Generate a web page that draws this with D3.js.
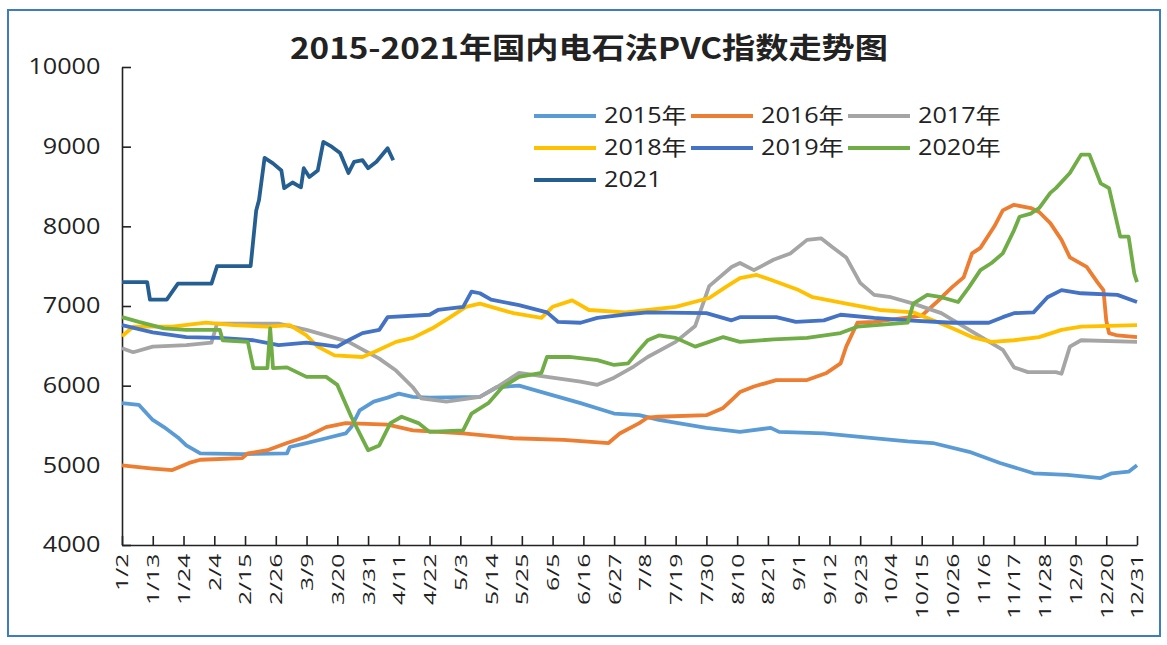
<!DOCTYPE html>
<html lang="zh-CN">
<head>
<meta charset="UTF-8">
<title>2015-2021年国内电石法PVC指数走势图</title>
<script src="https://cdn.jsdelivr.net/npm/d3@7"></script>
<style>
  body { margin: 0; background: #fff; }
  svg text { font-family: "Open Sans", "Noto Sans CJK SC", sans-serif; fill: #222; }
  .title { font-family: "Noto Sans CJK SC", sans-serif; font-weight: bold; }
  .axis path, .axis line { stroke: #222; stroke-width: 1.6; }
</style>
</head>
<body>
<svg id="chart" width="1167" height="645"></svg>
<script>
// ---- data ----
const seriesNames = ["2015年", "2016年", "2017年", "2018年", "2019年", "2020年", "2021"];
const seriesColors = ["#5b9bd5", "#ed7d31", "#a5a5a5", "#ffc000", "#4472c4", "#70ad47", "#255e91"];

const xTickLabels = ["1/2","1/13","1/24","2/4","2/15","2/26","3/9","3/20","3/31","4/11","4/22",
  "5/3","5/14","5/25","6/5","6/16","6/27","7/8","7/19","7/30","8/10","8/21","9/1","9/12",
  "9/23","10/4","10/15","10/26","11/6","11/17","11/28","12/9","12/20","12/31"];
const yTicks = [4000, 5000, 6000, 7000, 8000, 9000, 10000];

const s2015 = [["1/2",5780],["1/8",5760],["1/13",5570],["1/17",5480],["1/22",5350],["1/25",5250],
  ["1/30",5150],["2/14",5140],["3/2",5150],["3/3",5230],["3/9",5280],["3/16",5340],["3/23",5400],
  ["3/25",5480],["3/28",5690],["4/2",5800],["4/7",5850],["4/11",5900],["4/16",5860],["4/22",5850],
  ["5/10",5860],["5/16",5980],["5/24",6000],["6/3",5900],["6/15",5780],["6/27",5650],["7/6",5630],
  ["7/13",5570],["7/30",5470],["8/11",5420],["8/22",5470],["8/25",5420],["9/10",5400],["9/22",5360],
  ["10/10",5300],["10/19",5280],["11/1",5170],["11/12",5030],["11/24",4900],["12/6",4880],
  ["12/18",4840],["12/22",4900],["12/28",4920],["12/31",5000]];

const s2016 = [["1/2",5000],["1/13",4960],["1/20",4940],["1/26",5030],["1/30",5070],["2/14",5090],
  ["2/16",5150],["2/23",5190],["3/2",5280],["3/9",5360],["3/16",5480],["3/23",5530],["4/7",5510],
  ["4/16",5440],["5/4",5400],["5/22",5340],["6/9",5320],["6/25",5280],["6/29",5400],["7/6",5530],
  ["7/9",5600],["7/13",5610],["7/30",5630],["8/5",5720],["8/8",5820],["8/11",5920],["8/16",5990],
  ["8/24",6070],["9/4",6070],["9/11",6160],["9/16",6280],["9/18",6490],["9/22",6790],["9/28",6800],
  ["10/15",6880],["10/22",7100],["10/23",7140],["10/26",7240],["10/30",7360],["11/2",7660],
  ["11/5",7730],["11/10",8000],["11/13",8200],["11/17",8270],["11/23",8230],["11/26",8180],
  ["11/30",8040],["12/4",7830],["12/7",7610],["12/13",7490],["12/17",7290],["12/19",7200],
  ["12/20",6820],["12/21",6660],["12/24",6630],["12/31",6610]];

const s2017 = [["1/2",6470],["1/6",6420],["1/13",6490],["1/25",6510],["2/3",6540],["2/5",6780],
  ["2/27",6780],["3/9",6700],["3/24",6550],["4/4",6340],["4/10",6190],["4/16",5980],["4/19",5840],
  ["4/28",5800],["5/10",5860],["5/16",5980],["5/24",6160],["6/3",6110],["6/15",6050],["6/21",6010],
  ["6/27",6100],["7/4",6240],["7/9",6360],["7/19",6550],["7/26",6750],["7/31",7250],["8/8",7490],
  ["8/11",7540],["8/16",7450],["8/23",7580],["8/29",7660],["9/4",7830],["9/9",7850],["9/13",7740],
  ["9/18",7610],["9/23",7290],["9/28",7140],["10/4",7110],["10/12",7030],["10/22",6910],
  ["11/1",6700],["11/13",6450],["11/17",6230],["11/22",6170],["12/2",6170],["12/4",6150],
  ["12/7",6490],["12/11",6570],["12/31",6550]];

const s2018 = [["1/2",6620],["1/6",6740],["1/20",6740],["2/1",6790],["2/11",6760],["2/23",6740],
  ["3/3",6760],["3/9",6630],["3/13",6490],["3/19",6380],["3/29",6360],["4/2",6420],["4/10",6550],
  ["4/16",6600],["4/23",6720],["4/29",6850],["5/5",6990],["5/10",7030],["5/22",6910],["6/1",6850],
  ["6/5",6990],["6/12",7070],["6/18",6950],["7/1",6920],["7/19",6990],["7/31",7100],["8/6",7240],
  ["8/11",7350],["8/17",7390],["8/22",7330],["9/1",7200],["9/6",7110],["9/18",7030],["9/30",6950],
  ["10/12",6920],["10/19",6820],["10/26",6720],["11/2",6610],["11/9",6550],["11/17",6570],
  ["11/26",6610],["12/4",6700],["12/11",6740],["12/31",6760]];

const s2019 = [["1/2",6760],["1/13",6670],["1/25",6610],["2/6",6600],["2/18",6570],["2/27",6510],
  ["3/9",6540],["3/20",6490],["3/24",6570],["3/29",6660],["4/4",6700],["4/7",6860],["4/22",6890],
  ["4/25",6950],["5/4",6990],["5/7",7180],["5/10",7160],["5/14",7080],["5/24",7010],["6/3",6920],
  ["6/7",6800],["6/15",6790],["6/21",6850],["6/30",6890],["7/9",6920],["7/30",6910],["8/8",6820],
  ["8/11",6860],["8/24",6860],["8/31",6800],["9/10",6820],["9/16",6890],["9/28",6850],["10/10",6820],
  ["10/26",6790],["11/8",6790],["11/13",6860],["11/17",6910],["11/24",6920],["11/29",7110],
  ["12/4",7200],["12/11",7160],["12/24",7140],["12/31",7050]];

const s2020 = [["1/2",6860],["1/8",6800],["1/17",6720],["1/25",6700],["2/6",6700],["2/7",6570],
  ["2/16",6550],["2/18",6220],["2/23",6220],["2/24",6720],["2/25",6220],["3/2",6230],["3/9",6110],
  ["3/16",6110],["3/20",6010],["3/25",5610],["3/31",5190],["4/4",5250],["4/8",5530],["4/12",5610],
  ["4/18",5530],["4/22",5420],["5/4",5440],["5/7",5650],["5/13",5780],["5/18",5980],["5/24",6110],
  ["6/1",6160],["6/3",6360],["6/11",6360],["6/21",6320],["6/27",6260],["7/2",6280],["7/6",6450],
  ["7/9",6570],["7/13",6630],["7/19",6600],["7/26",6490],["8/5",6610],["8/11",6550],["8/23",6580],
  ["9/4",6600],["9/16",6660],["9/22",6740],["10/10",6790],["10/12",7030],["10/17",7140],
  ["10/22",7110],["10/28",7050],["11/1",7240],["11/5",7450],["11/9",7540],["11/13",7660],
  ["11/17",7950],["11/19",8120],["11/23",8160],["11/26",8230],["11/30",8420],["12/2",8480],
  ["12/7",8670],["12/11",8900],["12/14",8900],["12/18",8540],["12/21",8480],["12/25",7870],
  ["12/28",7870],["12/30",7410],["12/31",7300]];

const s2021 = [["1/2",7300],["1/11",7300],["1/12",7080],["1/18",7080],["1/22",7280],["2/3",7280],
  ["2/5",7500],["2/17",7500],["2/19",8200],["2/20",8330],["2/22",8860],["2/25",8790],["2/28",8700],
  ["3/1",8480],["3/4",8550],["3/7",8490],["3/8",8730],["3/10",8620],["3/13",8700],["3/15",9060],
  ["3/18",9000],["3/21",8920],["3/24",8670],["3/26",8810],["3/29",8830],["3/31",8730],["4/3",8810],
  ["4/7",8980],["4/9",8830]];

const allSeries = [s2015, s2016, s2017, s2018, s2019, s2020, s2021];

// ---- layout ----
const margin = { top: 67, right: 30, bottom: 100, left: 122 };
const plotW = 1137 - margin.left;
const plotH = 545 - margin.top;

const parseDay = d3.timeParse("%Y/%m/%d");
const toDate = s => parseDay("2015/" + s);

const svg = d3.select("#chart");

// outer frame
svg.append("rect")
  .attr("x", 8).attr("y", 10).attr("width", 1152).attr("height", 626)
  .attr("fill", "#fff").attr("stroke", "#3d7cc2").attr("stroke-width", 2);

const g = svg.append("g").attr("transform", `translate(${margin.left},${margin.top})`);

const x = d3.scaleTime()
  .domain([toDate("1/2"), toDate("12/31")])
  .range([0, plotW]);

const y = d3.scaleLinear()
  .domain([4000, 10000])
  .range([plotH, 0]);

// axes
const xAxis = g.append("g")
  .attr("class", "axis")
  .attr("transform", `translate(0,${plotH})`)
  .call(d3.axisBottom(x)
    .tickValues(xTickLabels.map(toDate))
    .tickFormat(d3.timeFormat("%-m/%-d"))
    .tickSize(-9).tickSizeOuter(0));
// labels in the source are drawn tall and narrow, so stretch them along their length
xAxis.selectAll("text")
  .attr("transform", "rotate(-90) scale(1.45,1)")
  .attr("x", -6).attr("y", 0).attr("dy", "0.35em")
  .style("text-anchor", "end")
  .style("font-size", "17px");

const yAxis = g.append("g")
  .attr("class", "axis")
  .call(d3.axisLeft(y).tickValues(yTicks).tickFormat(d3.format("d"))
    .tickSize(-9).tickSizeOuter(0));
yAxis.selectAll("text")
  .attr("x", -18)
  .attr("transform", "scale(1.2,1)")
  .style("font-size", "21px");

// lines
const line = d3.line()
  .x(d => x(toDate(d[0])))
  .y(d => y(d[1]));

allSeries.forEach((s, i) => {
  g.append("path")
    .datum(s)
    .attr("fill", "none")
    .attr("stroke", seriesColors[i])
    .attr("stroke-width", 3.8)
    .attr("stroke-linejoin", "round")
    .attr("d", line);
});

// title
svg.append("text")
  .attr("class", "title")
  .attr("x", 589).attr("y", 59)
  .attr("text-anchor", "middle")
  .attr("textLength", 598)
  .attr("lengthAdjust", "spacingAndGlyphs")
  .style("font-size", "29px")
  .text("2015-2021年国内电石法PVC指数走势图");

// legend
const legend = svg.append("g").attr("class", "legend");
const colX = [534, 691, 848];
const rowY = [116, 148, 180];
seriesNames.forEach((name, i) => {
  const cx = colX[i % 3], cy = rowY[Math.floor(i / 3)];
  legend.append("line")
    .attr("x1", cx).attr("x2", cx + 62)
    .attr("y1", cy).attr("y2", cy)
    .attr("stroke", seriesColors[i]).attr("stroke-width", 3.8);
  legend.append("text")
    .attr("transform", `translate(${cx + 70},${cy}) scale(1.2,1)`)
    .attr("dy", "0.35em")
    .style("font-size", "21px")
    .text(name);
});
</script>
</body>
</html>
